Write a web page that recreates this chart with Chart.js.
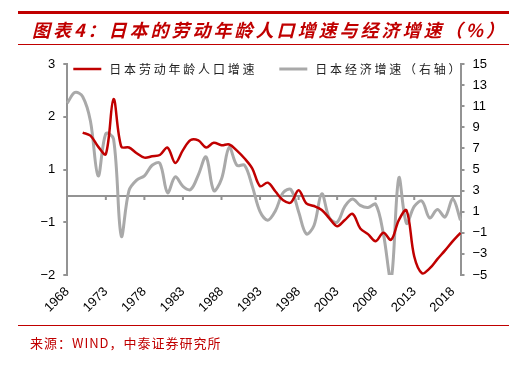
<!DOCTYPE html>
<html lang="zh">
<head>
    <meta charset="UTF-8">
    <title>日本的劳动年龄人口增速与经济增速</title>
    <script src="https://cdn.jsdelivr.net/npm/chart.js"></script>
    <style>
        body {
            margin: 0;
            background: #fff;
        }
        .wrap {
            position: relative;
            width: 529px;
            height: 365px;
        }
        canvas {
            position: absolute;
            left: 0;
            top: 0;
        }
        .bar {
            position: absolute;
            left: 18px;
            width: 491px;
            background: #c00000;
        }
        .title {
            position: absolute;
            left: 32px;
            top: 17px;
            font-family: "Noto Sans CJK SC", sans-serif;
            font-size: 18px;
            font-weight: bold;
            font-style: italic;
            letter-spacing: 3px;
            line-height: 24px;
            color: #c00000;
            white-space: nowrap;
        }
        .source {
            position: absolute;
            left: 30px;
            top: 334px;
            font-family: "Noto Sans CJK SC", sans-serif;
            font-size: 13px;
            letter-spacing: 1px;
            line-height: 18px;
            color: #c00000;
            white-space: nowrap;
        }
    </style>
</head>
<body>
<div class="wrap">
    <canvas id="chart" width="529" height="365"></canvas>
    <div class="bar" style="top:11px;height:3px"></div>
    <div class="title">图表4：日本的劳动年龄人口增速与经济增速（%）</div>
    <div class="bar" style="top:44px;height:1px"></div>
    <div class="bar" style="top:325px;height:1px"></div>
    <div class="source">来源：WIND，中泰证券研究所</div>
</div>

<script>
    // years 1968 - 2019
    const years = [];
    for (let y = 1968; y <= 2019; y++) years.push(String(y));

    // 日本劳动年龄人口增速 (left axis, %)
    const laborGrowth = [
        null, null, 1.44, 1.37, 1.12, 0.95, 2.2, 1.12, 1.1, 0.97,
        0.87, 0.9, 0.93, 1.1, 0.75, 1.04, 1.27, 1.26, 1.1, 1.21,
        1.15, 1.17, 1.03, 0.85, 0.62, 0.22, 0.3, 0.1, -0.1, -0.15,
        0.13, -0.17, -0.23, -0.32, -0.51, -0.69, -0.55, -0.41, -0.74, -0.87,
        -1.03, -0.84, -1.0, -0.55, -0.33, -1.38, -1.76, -1.65, -1.44, -1.24,
        -1.03, -0.84
    ];

    // 日本经济增速 (right axis, %)
    const gdpGrowth = [
        11.3, 12.3, 11.9, 9.6, 4.4, 8.4, 7.9, -1.3, 3.0, 4.0,
        4.4, 5.4, 5.6, 2.8, 4.3, 3.4, 3.1, 4.5, 6.2, 3.0,
        4.1, 7.1, 5.4, 5.4, 3.4, 1.0, 0.2, 1.1, 2.8, 3.1,
        1.0, -1.1, -0.3, 2.7, 0.4, 0.0, 1.5, 2.2, 1.6, 1.4,
        1.7, -1.1, -5.4, 4.2, -0.1, 1.5, 2.0, 0.4, 1.2, 0.5,
        2.2, 0.2
    ];

    const axisGray = '#939393';
    const tickFont = { family: 'Liberation Sans', size: 13 };
    const fmt = v => {
        const n = Math.round(v);
        return n < 0 ? '\u2212' + Math.abs(n) : String(n);
    };

    // horizontal axis drawn where the left scale is 0, with outside tick marks
    const zeroAxis = {
        id: 'zeroAxis',
        beforeDatasetsDraw(chart) {
            const { ctx, chartArea, scales } = chart;
            const y0 = scales.y.getPixelForValue(0);
            ctx.save();
            ctx.strokeStyle = axisGray;
            ctx.lineWidth = 2;
            ctx.beginPath();
            ctx.moveTo(chartArea.left, y0);
            ctx.lineTo(chartArea.right, y0);
            for (let i = 5; i < years.length; i += 5) {
                const x = scales.x.getPixelForValue(i);
                ctx.moveTo(x, y0);
                ctx.lineTo(x, y0 + 4);
            }
            ctx.stroke();
            ctx.restore();
        }
    };

    // legend inside the plot area, letter-spaced like the original
    const innerLegend = {
        id: 'innerLegend',
        afterDatasetsDraw(chart) {
            const { ctx, chartArea } = chart;
            ctx.save();
            ctx.font = '12px "Noto Sans CJK SC"';
            ctx.letterSpacing = '2.8px';
            ctx.textBaseline = 'middle';
            let x = chartArea.left + 6;
            const y = chartArea.top + 5;
            chart.data.datasets.forEach(ds => {
                ctx.strokeStyle = ds.borderColor;
                ctx.lineWidth = ds.borderWidth;
                ctx.beginPath();
                ctx.moveTo(x, y);
                ctx.lineTo(x + 28, y);
                ctx.stroke();
                ctx.fillStyle = '#222';
                ctx.fillText(ds.label, x + 36, y);
                x += 36 + ctx.measureText(ds.label).width + 22;
            });
            ctx.restore();
        }
    };

    new Chart(document.getElementById('chart'), {
        type: 'line',
        data: {
            labels: years,
            datasets: [
                {
                    label: '日本劳动年龄人口增速',
                    data: laborGrowth,
                    yAxisID: 'y',
                    borderColor: '#c00000',
                    borderWidth: 2.5,
                    tension: 0.35,
                    pointRadius: 0
                },
                {
                    label: '日本经济增速（右轴）',
                    data: gdpGrowth,
                    yAxisID: 'y2',
                    borderColor: '#a9a9a9',
                    borderWidth: 3,
                    tension: 0.35,
                    pointRadius: 0
                }
            ]
        },
        options: {
            responsive: false,
            animation: false,
            devicePixelRatio: 1,
            layout: { padding: { left: 0, right: 0, top: 64, bottom: 50 } },
            plugins: {
                legend: { display: false },
                tooltip: { enabled: false }
            },
            scales: {
                x: {
                    grid: { display: false },
                    border: { display: false },
                    afterFit: s => { s.height = 40; },
                    ticks: {
                        autoSkip: false,
                        minRotation: 45,
                        maxRotation: 45,
                        padding: 1,
                        color: '#000',
                        font: tickFont,
                        callback(v, i) { return i % 5 === 0 ? this.getLabelForValue(v) : null; }
                    }
                },
                y: {
                    position: 'left',
                    min: -1.8,
                    max: 3,
                    afterFit: s => { s.width = 67.3; },
                    grid: { drawOnChartArea: false, tickLength: 4, color: axisGray, lineWidth: 2 },
                    border: { color: axisGray, width: 2 },
                    ticks: { stepSize: 1.2, padding: 8, color: '#000', font: tickFont, callback: fmt }
                },
                y2: {
                    position: 'right',
                    min: -5,
                    max: 15,
                    afterFit: s => { s.width = 68.5; },
                    grid: { drawOnChartArea: false, tickLength: 4, color: axisGray, lineWidth: 2 },
                    border: { color: axisGray, width: 2 },
                    ticks: { stepSize: 2, padding: 8, color: '#000', font: tickFont, callback: fmt }
                }
            }
        },
        plugins: [zeroAxis, innerLegend]
    });
</script>
</body>
</html>
